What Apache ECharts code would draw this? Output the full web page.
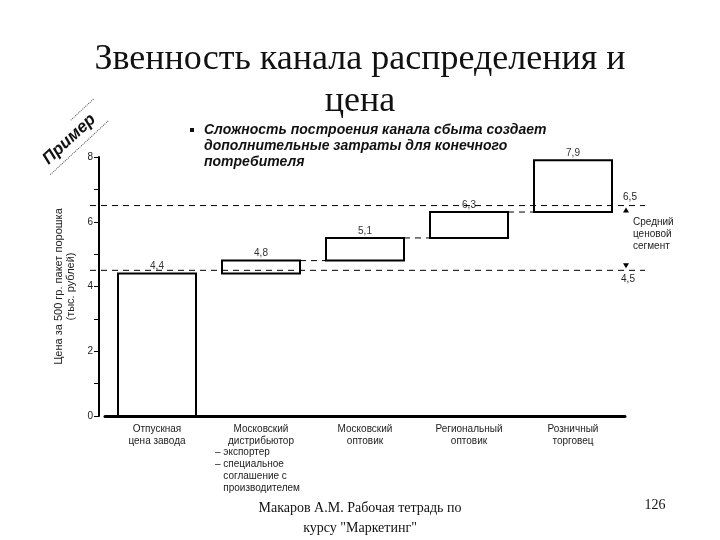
<!DOCTYPE html>
<html>
<head>
<meta charset="utf-8">
<script src="https://cdn.jsdelivr.net/npm/echarts@6/dist/echarts.min.js"></script>
<style>
  html, body { margin: 0; padding: 0; background: #fff; }
  #chart { width: 720px; height: 540px; }
</style>
</head>
<body>
<div id="chart"></div>
<script>
'use strict';

var categories = ['Отпускная\nцена завода', 'Московский\nдистрибьютор', 'Московский\nоптовик', 'Региональный\nоптовик', 'Розничный\nторговец'];
var barBase = [0, 4.4, 4.8, 5.5, 6.3];
var barTop = [4.4, 4.8, 5.5, 6.3, 7.9];
var valueLabels = ['4,4', '4,8', '5,1', '6,3', '7,9'];
var segmentTop = 6.5;
var segmentBottom = 4.5;
var distributorNotes = ['– экспортер', '– специальное', '   соглашение с', '   производителем'];

var sans = '"Liberation Sans", Arial, sans-serif';
var serif = '"Liberation Serif", "Times New Roman", serif';

var chart = echarts.init(document.getElementById('chart'));

var barData = barBase.map(function (b, i) {
    return [i, b, barTop[i]];
});

var option = {
    animation: false,
    backgroundColor: '#fff',
    title: {
        text: 'Звенность канала распределения и\nцена',
        left: 'center',
        top: 34,
        textStyle: {
            fontFamily: serif,
            fontSize: 36,
            fontWeight: 'normal',
            color: '#111',
            lineHeight: 42
        }
    },
    grid: { left: 105, right: 95, top: 157, bottom: 124 },
    xAxis: {
        type: 'category',
        data: categories,
        axisLine: { lineStyle: { color: '#000', width: 3 } },
        axisTick: { show: false },
        axisLabel: {
            fontFamily: sans,
            fontSize: 10,
            color: '#222',
            lineHeight: 12,
            margin: 7
        }
    },
    yAxis: {
        type: 'value',
        min: 0,
        max: 8,
        interval: 1,
        offset: 6,
        name: 'Цена за 500 гр. пакет порошка\n(тыс. рублей)',
        nameLocation: 'middle',
        nameRotate: 90,
        nameGap: 22,
        nameTextStyle: { fontFamily: sans, fontSize: 11, color: '#222', lineHeight: 12 },
        splitLine: { show: false },
        axisLine: { show: true, lineStyle: { color: '#000', width: 2 } },
        axisTick: { show: true, length: 5, lineStyle: { color: '#000' } },
        axisLabel: {
            fontFamily: sans,
            fontSize: 10,
            color: '#222',
            margin: 6,
            formatter: function (v) { return v % 2 === 0 ? String(v) : ''; }
        }
    },
    series: [{
        type: 'custom',
        data: barData,
        renderItem: function (params, api) {
            var lo = api.coord([api.value(0), api.value(1)]);
            var hi = api.coord([api.value(0), api.value(2)]);
            var w = api.size([1, 0])[0] * 0.75;
            return {
                type: 'group',
                children: [{
                    type: 'rect',
                    shape: { x: lo[0] - w / 2, y: hi[1], width: w, height: lo[1] - hi[1] },
                    style: { fill: '#fff', stroke: '#000', lineWidth: 2 }
                }, {
                    type: 'text',
                    style: {
                        text: valueLabels[params.dataIndex],
                        x: lo[0], y: hi[1] - 2,
                        align: 'center', verticalAlign: 'bottom',
                        font: '10px ' + sans, fill: '#333'
                    }
                }]
            };
        }
    }]
};

chart.setOption(option);

// линии и подписи, привязанные к осям
var px = function (cat, val) {
    return chart.convertToPixel({ gridIndex: 0 }, [cat, val]);
};
var band = px(1, 0)[0] - px(0, 0)[0];
var half = band * 0.75 / 2;
var gfx = [];
var dash = { stroke: '#000', lineWidth: 1, lineDash: [6, 5] };

[segmentTop, segmentBottom].forEach(function (v) {
    var y = px(0, v)[1];
    gfx.push({ type: 'line', shape: { x1: 90, y1: y, x2: 645, y2: y }, style: dash, z: 10 });
});

for (var i = 1; i < barTop.length - 1; i++) {
    var a = px(i, barTop[i]);
    var b = px(i + 1, barTop[i]);
    gfx.push({ type: 'line', shape: { x1: a[0] + half, y1: a[1], x2: b[0] - half, y2: a[1] }, style: dash, z: 10 });
}

var yTop = px(0, segmentTop)[1];
var yBot = px(0, segmentBottom)[1];
var ax = 626;
gfx.push({ type: 'polygon', shape: { points: [[ax - 3, yTop + 7], [ax + 3, yTop + 7], [ax, yTop + 2]] }, style: { fill: '#000' } });
gfx.push({ type: 'polygon', shape: { points: [[ax - 3, yBot - 7], [ax + 3, yBot - 7], [ax, yBot - 2]] }, style: { fill: '#000' } });
gfx.push({ type: 'text', style: { text: String(segmentTop).replace('.', ','), x: 630, y: yTop - 3, align: 'center', verticalAlign: 'bottom', font: '10px ' + sans, fill: '#222' } });
gfx.push({ type: 'text', style: { text: String(segmentBottom).replace('.', ','), x: 628, y: yBot + 4, align: 'center', verticalAlign: 'top', font: '10px ' + sans, fill: '#222' } });
gfx.push({ type: 'text', style: { text: 'Средний\nценовой\nсегмент', x: 633, y: yTop + 11, font: '10px ' + sans, fill: '#222', lineHeight: 12 } });

var d = px(1, 0)[0];
gfx.push({ type: 'text', style: { text: distributorNotes.join('\n'), x: d - 46, y: 446, font: '10px ' + sans, fill: '#222', lineHeight: 12 } });

// пояснение
gfx.push({ type: 'rect', shape: { x: 190, y: 128, width: 4, height: 4 }, style: { fill: '#111' } });
gfx.push({
    type: 'text',
    style: {
        text: 'Сложность построения канала сбыта создает\nдополнительные затраты для конечного\nпотребителя',
        x: 204, y: 122,
        font: 'italic bold 14px ' + sans, fill: '#111', lineHeight: 16
    }
});

// штамп «Пример»
gfx.push({
    type: 'group',
    x: 70, y: 140,
    rotation: Math.PI / 4.2,
    children: [{
        type: 'text',
        style: { text: 'Пример', x: 0, y: -1, align: 'center', verticalAlign: 'middle', font: 'italic bold 17px ' + sans, fill: '#111' }
    }, {
        type: 'line', shape: { x1: 14, y1: -14, x2: 46, y2: -14 }, style: { stroke: '#555', lineWidth: 1, lineDash: [1, 1] }
    }, {
        type: 'line', shape: { x1: -38, y1: 12, x2: 42, y2: 12 }, style: { stroke: '#555', lineWidth: 1, lineDash: [1, 1] }
    }]
});

// подвал
gfx.push({ type: 'text', style: { text: 'Макаров А.М. Рабочая тетрадь по\nкурсу "Маркетинг"', x: 360, y: 498, align: 'center', font: '14px ' + serif, fill: '#111', lineHeight: 20 } });
gfx.push({ type: 'text', style: { text: '126', x: 655, y: 498, align: 'center', font: '14px ' + serif, fill: '#111' } });

chart.setOption({ graphic: gfx });
</script>
</body>
</html>
